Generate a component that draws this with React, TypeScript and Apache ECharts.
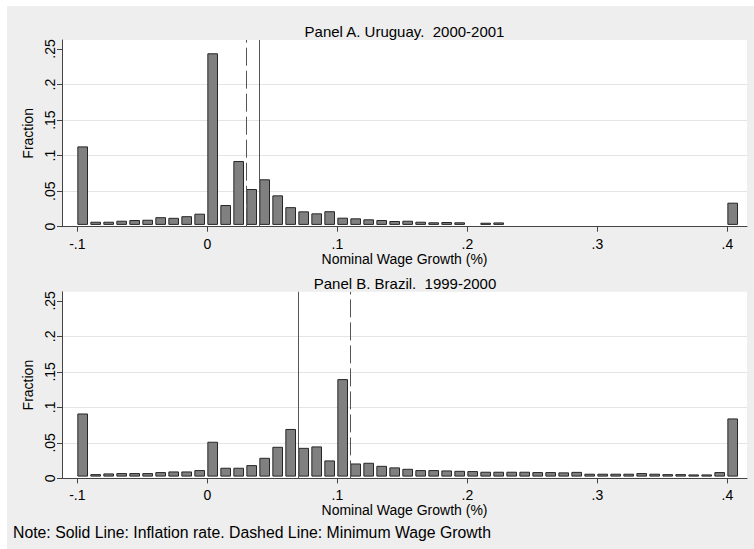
import React, { useEffect, useRef } from 'react';
import * as echarts from 'echarts';

// Histogram bin starts (width 0.01)
const BINS = [
  -0.1, -0.09, -0.08, -0.07, -0.06, -0.05, -0.04, -0.03, -0.02, -0.01,
  0.0, 0.01, 0.02, 0.03, 0.04, 0.05, 0.06, 0.07, 0.08, 0.09,
  0.1, 0.11, 0.12, 0.13, 0.14, 0.15, 0.16, 0.17, 0.18, 0.19,
  0.2, 0.21, 0.22, 0.23, 0.24, 0.25, 0.26, 0.27, 0.28, 0.29,
  0.3, 0.31, 0.32, 0.33, 0.34, 0.35, 0.36, 0.37, 0.38, 0.39,
  0.4,
];

// Panel A: Uruguay 2000-2001 (fraction per bin)
const URUGUAY = [
  0.113, 0.007, 0.007, 0.0084, 0.0094, 0.0098, 0.0134, 0.0125, 0.0148, 0.0183,
  0.244, 0.0305, 0.0924, 0.053, 0.0667, 0.0441, 0.0275, 0.0216, 0.0188, 0.0218,
  0.0127, 0.0118, 0.0104, 0.0094, 0.008, 0.0084, 0.007, 0.0062, 0.0066, 0.0062,
  null, 0.0056, 0.006, null, null, null, null, null, null, null,
  null, null, null, null, null, null, null, null, null, null,
  0.0338,
];

// Panel B: Brazil 1999-2000 (fraction per bin)
const BRAZIL = [
  0.0914, 0.006, 0.007, 0.0075, 0.0075, 0.0075, 0.0089, 0.0098, 0.0098, 0.0117,
  0.0516, 0.015, 0.015, 0.0187, 0.029, 0.0445, 0.0696, 0.043, 0.045, 0.0253,
  0.1398, 0.021, 0.022, 0.0177, 0.0155, 0.0135, 0.0117, 0.0117, 0.0112, 0.0107,
  0.0103, 0.0094, 0.0094, 0.0094, 0.0094, 0.0089, 0.0089, 0.0085, 0.0092, 0.0066,
  0.0066, 0.0066, 0.0066, 0.0075, 0.0066, 0.006, 0.006, 0.0056, 0.0056, 0.0089,
  0.0844,
];

const URUGUAY_INFLATION = 0.0436;
const URUGUAY_MINWAGE = 0.0303;
const BRAZIL_INFLATION = 0.0703;
const BRAZIL_MINWAGE = 0.1103;

const X_TICKS = [-0.1, 0, 0.1, 0.2, 0.3, 0.4];
const Y_TICKS = [0, 0.05, 0.1, 0.15, 0.2, 0.25];

const TITLES = ['Panel A. Uruguay.  2000-2001', 'Panel B. Brazil.  1999-2000'];
const X_NAME = 'Nominal Wage Growth (%)';
const Y_NAME = 'Fraction';
const NOTE = 'Note: Solid Line: Inflation rate. Dashed Line: Minimum Wage Growth';

const X_MIN = -0.1118;
const X_MAX = 0.4151;
const Y_MAX = 0.2627;
const BAR_W = 0.0082;

const FONT = '"Liberation Sans", Arial, sans-serif';

const fmt = (v: number) => {
  const r = Math.round(v * 100) / 100;
  if (r === 0) return '0';
  return String(r).replace('0.', '.');
};

const renderBar = (params: any, api: any) => {
  const x0 = api.value(0);
  const v = api.value(1);
  const pTop = api.coord([x0, v]);
  const pBase = api.coord([x0 + BAR_W, 0]);
  const bottom = pBase[1] - 2.3;
  return {
    type: 'rect',
    shape: {
      x: pTop[0] + 0.5,
      y: pTop[1] + 0.5,
      width: pBase[0] - pTop[0] - 1,
      height: Math.max(bottom - pTop[1] - 0.5, 0.5),
    },
    style: { fill: '#808080', stroke: '#262626', lineWidth: 1 },
  };
};

const makeX = (gridIndex: number) => ({
  type: 'value',
  gridIndex,
  min: X_MIN,
  max: X_MAX,
  name: X_NAME,
  nameLocation: 'middle',
  nameGap: 24,
  nameTextStyle: { color: '#000', fontSize: 14, fontFamily: FONT },
  axisLine: { show: true, onZero: false, lineStyle: { color: '#444', width: 1 } },
  axisTick: { show: true, customValues: X_TICKS, length: 5, lineStyle: { color: '#444' } },
  axisLabel: {
    customValues: X_TICKS,
    formatter: fmt,
    color: '#000',
    fontSize: 14,
    fontFamily: FONT,
    margin: 10,
  },
  splitLine: { show: false },
});

const makeY = (gridIndex: number) => ({
  type: 'value',
  gridIndex,
  min: 0,
  max: Y_MAX,
  interval: 0.05,
  name: Y_NAME,
  nameLocation: 'middle',
  nameRotate: 90,
  nameGap: 26,
  nameTextStyle: { color: '#000', fontSize: 14, fontFamily: FONT },
  axisLine: { show: true, onZero: false, lineStyle: { color: '#444', width: 1 } },
  axisTick: { show: true, customValues: Y_TICKS, length: 5, lineStyle: { color: '#444' } },
  axisLabel: {
    customValues: Y_TICKS,
    formatter: fmt,
    rotate: 90,
    color: '#000',
    fontSize: 14,
    fontFamily: FONT,
    margin: 5,
  },
  splitLine: { show: true, showMaxLine: false, showMinLine: false, lineStyle: { color: '#e4e4e4', width: 1.2 } },
});

const barSeries = (idx: number, values: (number | null)[]) => ({
  type: 'custom',
  xAxisIndex: idx,
  yAxisIndex: idx,
  renderItem: renderBar,
  encode: { x: 0, y: 1 },
  data: BINS.map((b, i) => [b, values[i]]).filter((d) => d[1] != null),
  silent: true,
  z: 2,
});

const refLines = (idx: number, solid: number, dashed: number) => ({
  type: 'line',
  xAxisIndex: idx,
  yAxisIndex: idx,
  data: [],
  silent: true,
  z: 3,
  markLine: {
    silent: true,
    symbol: ['none', 'none'],
    label: { show: false },
    lineStyle: { color: '#555', width: 1 },
    emphasis: { disabled: true },
    data: [
      { xAxis: solid, lineStyle: { type: 'solid', color: '#555', width: 1 } },
      { xAxis: dashed, lineStyle: { type: [18, 5], color: '#555', width: 1 } },
    ],
  },
});

export default function App() {
  const ref = useRef<HTMLDivElement>(null);
  useEffect(() => {
    const chart = echarts.init(ref.current!, null, { renderer: 'svg' });
    chart.setOption({
      animation: false,
      backgroundColor: '#ffffff',
      grid: [
        { left: 62, top: 40, width: 685, height: 186.7, show: true, backgroundColor: '#ffffff', borderWidth: 0, containLabel: false },
        { left: 62, top: 291.8, width: 685, height: 186.6, show: true, backgroundColor: '#ffffff', borderWidth: 0, containLabel: false },
      ],
      xAxis: [makeX(0), makeX(1)],
      yAxis: [makeY(0), makeY(1)],
      graphic: [
        {
          type: 'rect',
          silent: true,
          z: -100,
          shape: { x: 7, y: 6, width: 747, height: 543 },
          style: { fill: '#eeeeee' },
        },
        {
          type: 'text',
          x: 404.5,
          y: 31,
          style: { text: TITLES[0], fill: '#000', font: `15px ${FONT}`, textAlign: 'center', textVerticalAlign: 'middle' },
        },
        {
          type: 'text',
          x: 405,
          y: 283,
          style: { text: TITLES[1], fill: '#000', font: `15px ${FONT}`, textAlign: 'center', textVerticalAlign: 'middle' },
        },
        {
          type: 'text',
          x: 13,
          y: 532,
          style: { text: NOTE, fill: '#000', font: `15.8px ${FONT}`, textAlign: 'left', textVerticalAlign: 'middle' },
        },
      ],
      series: [
        barSeries(0, URUGUAY),
        barSeries(1, BRAZIL),
        refLines(0, URUGUAY_INFLATION, URUGUAY_MINWAGE),
        refLines(1, BRAZIL_INFLATION, BRAZIL_MINWAGE),
      ],
    });
    return () => chart.dispose();
  }, []);
  return (
    <div
      ref={ref}
      style={{ position: 'fixed', left: 0, top: 0, width: 754, height: 549, background: '#fff' }}
    />
  );
}
